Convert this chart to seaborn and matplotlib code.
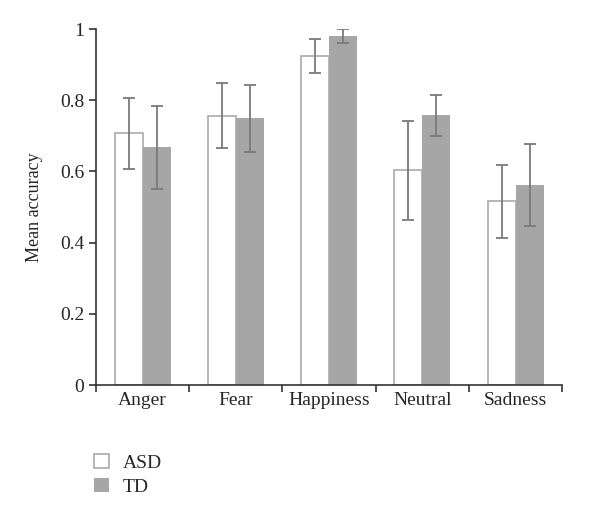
import pandas as pd
import matplotlib.pyplot as plt
import seaborn as sns
import numpy as np
from matplotlib.patches import Patch

# Werte
emotions = ["Anger", "Fear", "Happiness", "Neutral", "Sadness"]
asd_mean = [0.707, 0.757, 0.924, 0.603, 0.516]
asd_err = [0.099, 0.092, 0.048, 0.139, 0.103]
td_mean = [0.668, 0.749, 0.981, 0.758, 0.562]
td_err = [0.116, 0.093, 0.020, 0.057, 0.114]

df = pd.DataFrame({
    "emotion": emotions * 2,
    "group": ["ASD"] * 5 + ["TD"] * 5,
    "acc": asd_mean + td_mean,
    "err": asd_err + td_err,
})

sns.set_style("ticks")
plt.rcParams["font.family"] = ["Liberation Serif", "DejaVu Serif"]

fig = plt.figure(figsize=(6, 5.19), dpi=100)
ax = fig.add_axes([0.16, 0.258, 0.777, 0.686])

sns.barplot(data=df, x="emotion", y="acc", hue="group", order=emotions,
            hue_order=["ASD", "TD"], palette={"ASD": "white", "TD": "#a6a6a6"},
            width=0.6, errorbar=None, legend=False, ax=ax)

# Rahmen der Balken + Fehlerbalken
n = len(emotions)
for i, p in enumerate(ax.patches[:2 * n]):
    if i < n:
        p.set_edgecolor("#aaaaaa")
        p.set_linewidth(1.2)
    else:
        p.set_edgecolor("none")
        p.set_linewidth(0)

for i, p in enumerate(ax.patches[:2 * n]):
    row = df.iloc[i]
    xc = p.get_x() + p.get_width() / 2
    ax.errorbar(xc, row["acc"], yerr=row["err"], fmt="none", ecolor="#7a7a7a",
                elinewidth=1.3, capsize=4.5, capthick=1.3)

ax.set_xlim(-0.5, n - 0.5)
ax.set_ylim(0, 1)
ax.set_yticks([0, 0.2, 0.4, 0.6, 0.8, 1.0])
ax.set_yticklabels(["0", "0.2", "0.4", "0.6", "0.8", "1"])
ax.set_xticks(np.arange(-0.5, n, 1.0))
ax.set_xticklabels([])
ax.set_xticks(np.arange(n), minor=True)
ax.set_xticklabels(emotions, minor=True)
ax.tick_params(axis="x", which="minor", length=0, labelsize=14, pad=5)
ax.tick_params(axis="x", which="major", length=5, width=1.2, color="#333333")
ax.tick_params(axis="y", length=5, width=1.2, color="#333333", labelsize=14)
ax.set_xlabel("")
ax.set_ylabel("Mean accuracy", fontsize=13, labelpad=12)
for s in ["top", "right"]:
    ax.spines[s].set_visible(False)
for s in ["left", "bottom"]:
    ax.spines[s].set_color("#333333")
    ax.spines[s].set_linewidth(1.2)

handles = [Patch(facecolor="white", edgecolor="#aaaaaa", linewidth=1.2, label="ASD"),
           Patch(facecolor="#a6a6a6", edgecolor="none", label="TD")]
fig.legend(handles=handles, loc="upper left", bbox_to_anchor=(0.157, 0.125),
           frameon=False, fontsize=14, handlelength=0.75, handleheight=0.75,
           handletextpad=0.7, labelspacing=0.3, borderaxespad=0, borderpad=0)

fig.savefig("out.png", dpi=100)
